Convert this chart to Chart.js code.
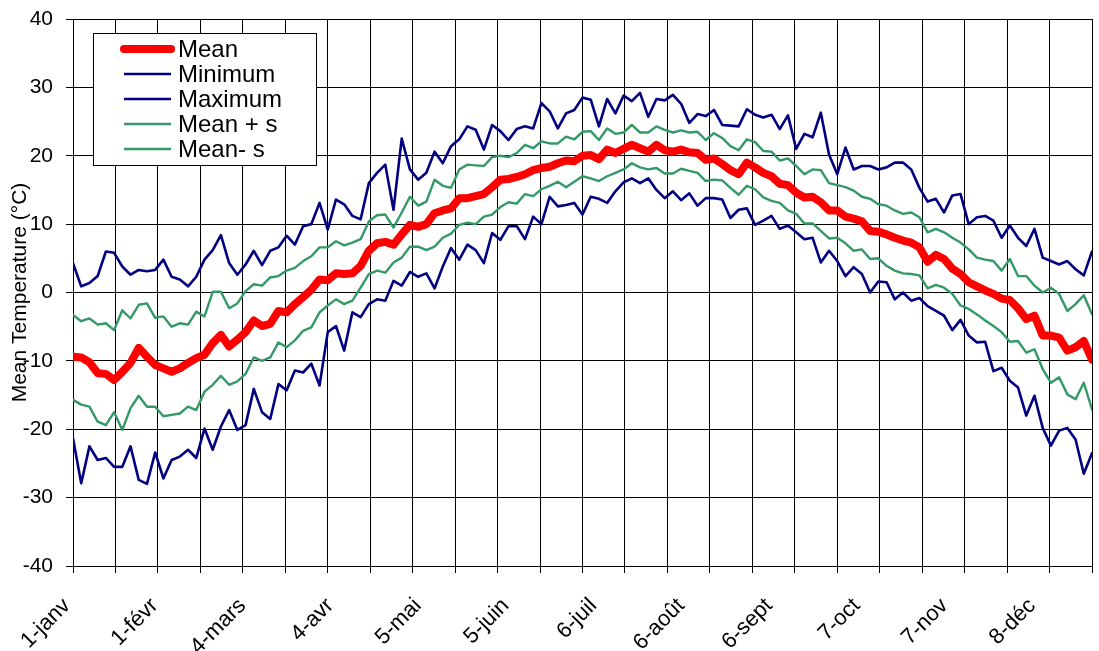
<!DOCTYPE html>
<html>
<head>
<meta charset="utf-8">
<script src="https://cdn.jsdelivr.net/npm/chart.js@4.4.1/dist/chart.umd.min.js"></script>
<style>
  html, body { margin: 0; padding: 0; background: #fff; }
</style>
</head>
<body>
<canvas id="chart" width="1099" height="651"></canvas>
<script>
// month labels, one every 31 days; grid lines every 15 days
const tickLabels = ['1-janv', '1-févr', '4-mars', '4-avr', '5-mai', '5-juin', '6-juil', '6-août', '6-sept', '7-oct', '7-nov', '8-déc'];
const labelEvery = 31;
const gridEvery = 15;
const axisDays = 360;
const sampleCount = 125;   // values below are read at evenly spaced points over the year

const meanT = [-9.4,-9.5,-10.2,-11.8,-11.9,-12.8,-11.6,-10.3,-8.1,-9.4,-10.6,-11.1,-11.6,-11.1,-10.3,-9.6,-9.1,-7.4,-6.2,-7.9,-6.9,
  -5.8,-4.1,-4.9,-4.6,-2.7,-2.9,-1.7,-0.7,0.4,1.9,1.8,2.8,2.7,2.8,3.9,6.1,7.2,7.4,7.0,8.5,
  9.9,9.6,10.0,11.6,12.0,12.3,13.8,13.8,14.1,14.4,15.4,16.5,16.6,16.9,17.3,17.9,18.2,18.4,18.9,19.3,19.2,
  20.0,20.1,19.5,20.9,20.4,21.0,21.6,21.1,20.6,21.6,20.8,20.6,20.9,20.5,20.4,19.4,19.6,18.8,17.9,17.3,19.0,
  18.3,17.5,17.0,15.9,15.7,14.6,13.9,14.0,13.2,12.0,12.0,11.1,10.8,10.4,9.0,8.9,8.5,8.0,7.6,7.3,
  6.6,4.5,5.5,4.9,3.5,2.7,1.5,0.9,0.3,-0.2,-0.9,-1.1,-2.3,-3.9,-3.4,-6.3,-6.3,-6.6,-8.5,-8.0,-7.1,-9.8];

const minT = [-21.3,-27.9,-22.5,-24.5,-24.2,-25.5,-25.5,-22.5,-27.4,-28.0,-23.4,-27.2,-24.5,-24.0,-23.0,-24.2,-19.9,-23.0,-19.6,-17.2,-20.1,
  -19.4,-14.1,-17.5,-18.5,-13.4,-14.3,-11.4,-11.7,-10.4,-13.6,-5.8,-4.9,-8.5,-2.9,-3.6,-1.7,-1.0,-1.2,1.7,1.0,
  3.0,2.3,2.8,0.6,3.8,6.5,4.8,7.0,6.2,4.3,8.7,7.7,9.7,9.7,7.8,11.1,10.0,14.0,12.6,12.8,13.1,
  11.4,14.0,13.7,13.1,14.8,16.1,16.7,16.0,16.7,15.0,13.8,14.8,13.5,14.5,12.7,13.8,13.8,13.6,10.9,12.1,12.3,
  9.9,10.5,11.2,9.3,9.8,8.8,7.8,8.0,4.4,6.1,4.6,2.4,3.7,2.7,0.0,1.6,1.5,-1.0,0.0,-1.2,
  -0.8,-2.0,-2.7,-3.4,-5.5,-4.0,-6.3,-7.3,-7.2,-11.5,-11.0,-12.9,-13.9,-18.0,-15.1,-19.8,-22.4,-20.2,-19.8,-21.5,-26.5,-23.5];

const maxT = [4.3,0.9,1.4,2.4,6.0,5.8,3.8,2.6,3.3,3.1,3.3,4.8,2.3,1.9,0.9,2.3,4.8,6.2,8.4,4.3,2.6,
  4.1,6.1,4.0,6.1,6.6,8.3,7.0,9.7,10.0,13.1,9.2,13.6,12.9,11.2,10.7,16.0,17.5,18.7,12.1,22.5,
  18.0,16.5,17.5,20.6,18.9,21.4,22.4,24.3,23.8,20.9,24.5,23.6,22.3,23.9,24.3,24.0,27.7,26.5,24.0,26.2,26.7,
  28.5,28.2,24.3,28.3,26.2,28.8,28.0,29.2,25.7,28.3,28.1,28.9,27.6,24.8,26.1,25.8,26.7,24.5,24.4,24.3,26.8,
  26.0,25.6,26.0,23.9,25.9,21.0,23.2,22.7,26.3,20.2,17.3,21.2,18.0,18.5,18.5,18.0,18.3,19.0,19.0,18.0,
  15.3,13.3,13.7,11.7,14.2,14.4,10.0,11.0,11.2,10.5,8.0,9.8,8.0,6.8,9.3,5.1,4.6,4.1,4.6,3.4,2.5,6.0];

const meanPlusS = [-3.3,-4.2,-3.8,-4.7,-4.5,-5.5,-2.6,-3.8,-1.8,-1.6,-3.7,-3.5,-5.0,-4.5,-4.7,-2.8,-3.5,0.1,0.1,-2.3,-1.6,
  0.2,1.2,1.0,2.2,2.4,3.2,3.6,4.6,5.3,6.6,6.6,7.5,6.9,7.3,7.8,10.4,11.3,11.4,9.5,11.7,
  14.0,12.7,13.3,16.5,15.6,15.3,18.0,18.7,18.6,18.5,19.8,20.0,19.8,20.4,21.6,21.1,22.1,21.8,21.8,22.8,22.4,
  23.5,23.6,22.3,24.0,23.2,23.4,24.5,23.4,23.4,24.3,23.8,23.4,23.7,23.4,23.5,22.3,23.3,22.6,21.4,20.8,22.4,
  22.0,20.7,20.6,19.3,19.6,18.5,17.3,18.0,17.9,16.0,15.7,15.4,14.9,14.0,13.7,12.9,12.7,12.0,11.5,11.7,
  11.0,8.8,9.3,8.8,8.0,7.3,6.3,5.1,4.8,4.6,3.2,4.9,2.4,2.4,1.0,0.0,0.7,-0.2,-2.7,-1.7,-0.4,-3.2];

const meanMinusS = [-15.7,-16.4,-16.7,-18.9,-19.4,-17.5,-20.1,-16.9,-15.1,-16.7,-16.7,-18.1,-17.9,-17.7,-16.7,-17.2,-14.5,-13.5,-12.2,-13.5,-13.0,
  -11.9,-9.5,-10.0,-9.5,-7.3,-8.0,-7.0,-5.6,-5.1,-2.9,-1.9,-1.0,-1.7,-1.2,0.7,2.7,3.2,2.9,4.4,5.1,
  6.7,6.7,6.2,6.7,8.0,8.6,9.9,10.2,10.0,11.1,11.4,12.5,13.2,13.0,14.4,14.1,15.1,15.6,16.2,15.4,16.2,
  17.0,16.7,16.3,17.0,17.5,18.0,18.9,18.3,18.0,18.2,17.4,17.4,18.1,17.8,17.5,16.3,16.5,16.4,15.3,14.3,15.6,
  15.1,13.9,13.4,13.1,12.0,11.5,10.1,10.1,9.0,7.9,8.0,7.2,6.1,6.3,4.9,5.0,3.9,3.2,2.8,2.7,
  2.5,0.6,1.1,0.7,-0.2,-1.9,-2.4,-3.2,-4.1,-4.9,-5.8,-7.2,-7.1,-8.8,-8.3,-11.2,-13.2,-12.4,-14.9,-15.6,-13.2,-17.1];

const stepDays = axisDays / (sampleCount - 1);
const days = meanT.map((_, i) => i * stepDays);
const toPoints = vals => vals.map((v, i) => ({ x: days[i], y: v }));

// tick positions: grid lines every 15 days, labels every 31 days
const tickDays = [];
for (let d = 0; d <= axisDays; d += gridEvery) tickDays.push(d);
for (let k = 1; k < tickLabels.length; k++) tickDays.push(k * labelEvery);
tickDays.sort((a, b) => a - b);

const FONT = '"Liberation Sans", Arial, sans-serif';
const NAVY = '#000080';
const GREEN = '#339966';

const legendBox = {
  id: 'legendBox',
  afterDraw(chart) {
    const ctx = chart.ctx;
    const x0 = 93, y0 = 33, w = 223, h = 132;
    ctx.save();
    ctx.fillStyle = '#fff';
    ctx.fillRect(x0, y0, w, h);
    ctx.strokeStyle = '#000';
    ctx.lineWidth = 1;
    ctx.strokeRect(x0 + 0.5, y0 + 0.5, w, h);
    ctx.font = '24px ' + FONT;
    ctx.textBaseline = 'middle';
    chart.data.datasets.forEach((ds, i) => {
      const y = y0 + 16 + i * 25;
      ctx.strokeStyle = ds.borderColor;
      ctx.lineWidth = ds.borderWidth;
      ctx.lineCap = i === 0 ? 'round' : 'butt';
      ctx.beginPath();
      ctx.moveTo(124, y);
      ctx.lineTo(171, y);
      ctx.stroke();
      ctx.fillStyle = '#000';
      ctx.fillText(ds.label, 178, y + 1);
    });
    ctx.restore();
  }
};

const lineStyle = (label, vals, color, width) => ({
  label,
  data: toPoints(vals),
  borderColor: color,
  backgroundColor: color,
  borderWidth: width,
  pointRadius: 0,
  tension: 0,
  fill: false,
  borderJoinStyle: 'round',
  borderCapStyle: 'round'
});

new Chart(document.getElementById('chart'), {
  type: 'line',
  data: {
    datasets: [
      lineStyle('Mean', meanT, '#ff0000', 8),
      lineStyle('Minimum', minT, NAVY, 2.6),
      lineStyle('Maximum', maxT, NAVY, 2.6),
      lineStyle('Mean + s', meanPlusS, GREEN, 2.4),
      lineStyle('Mean- s', meanMinusS, GREEN, 2.4)
    ]
  },
  options: {
    responsive: false,
    devicePixelRatio: 1,
    animation: false,
    layout: { padding: { top: 19, right: 7, left: 0, bottom: 0 } },
    plugins: { legend: { display: false }, tooltip: { enabled: false } },
    scales: {
      x: {
        type: 'linear',
        min: 0,
        max: axisDays,
        afterBuildTicks: s => { s.ticks = tickDays.map(v => ({ value: v })); },
        afterFit: s => { s.height = 85; s.paddingLeft = 0; s.paddingRight = 0; },
        ticks: {
          autoSkip: false,
          maxRotation: 45,
          minRotation: 45,
          padding: 20,
          labelOffset: -6,
          color: '#000',
          font: { family: FONT, size: 22 },
          callback: v => {
            const k = v / labelEvery;
            return Number.isInteger(k) && k < tickLabels.length ? tickLabels[k] : '';
          }
        },
        grid: {
          color: c => (c.tick && c.tick.value % gridEvery !== 0) ? 'rgba(0,0,0,0)' : '#000',
          lineWidth: 1,
          tickLength: 7
        },
        border: { color: '#000', width: 1 }
      },
      y: {
        min: -40,
        max: 40,
        afterFit: s => { s.width = 73; s.paddingTop = 0; s.paddingBottom = 0; },
        ticks: {
          stepSize: 10,
          padding: 13,
          color: '#000',
          font: { family: FONT, size: 21 }
        },
        grid: { color: '#000', lineWidth: 1, tickLength: 7 },
        border: { color: '#000', width: 1 },
        title: {
          display: true,
          text: 'Mean Temperature (°C)',
          color: '#000',
          font: { family: FONT, size: 21 },
          padding: { top: 8, bottom: 0 }
        }
      }
    }
  },
  plugins: [legendBox]
});
</script>
</body>
</html>
